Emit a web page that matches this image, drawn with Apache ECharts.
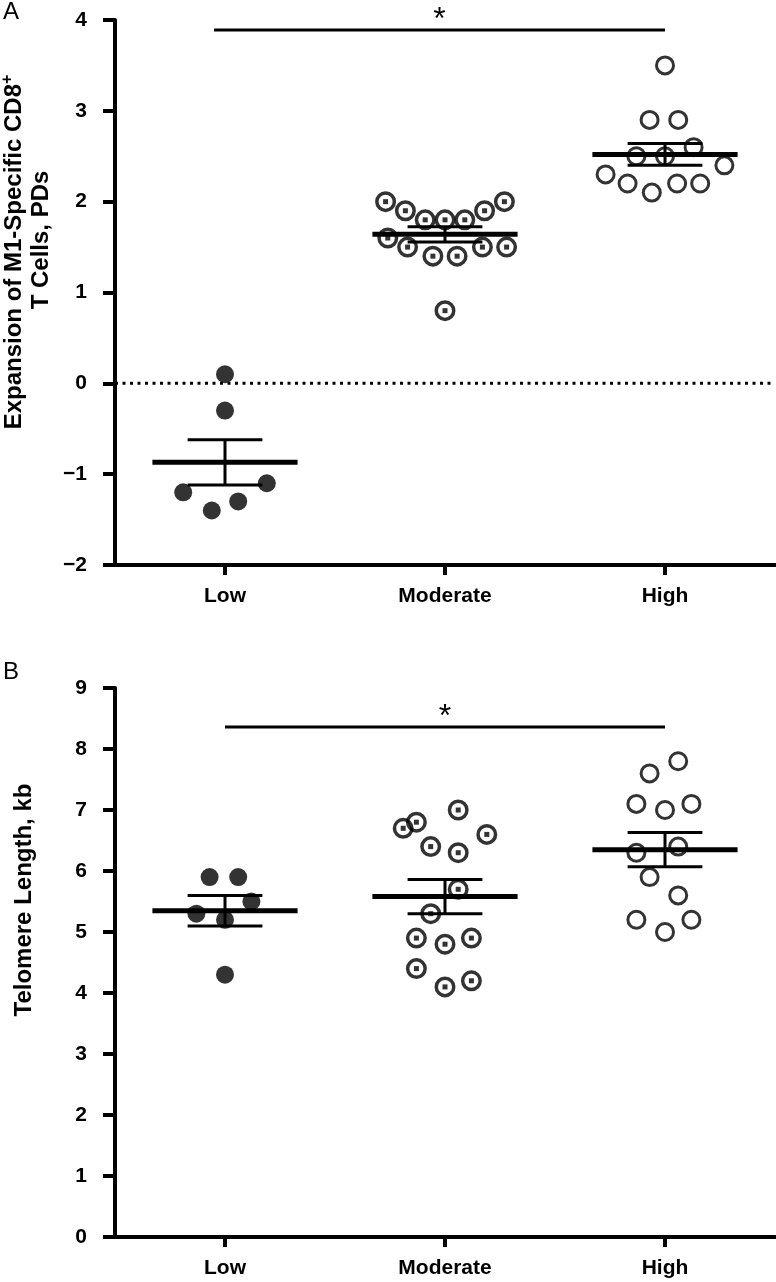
<!DOCTYPE html>
<html><head><meta charset="utf-8">
<script src="https://cdn.jsdelivr.net/npm/echarts@6/dist/echarts.min.js"></script>
<style>html,body{margin:0;padding:0;background:#fff}#c{width:776px;height:1282px}</style>
</head><body><div id="c"></div>
<script>
// ---------- data ----------
const categories = ['Low', 'Moderate', 'High'];

// Panel A: expansion (PDs)
const lowA = [0.1, -0.3, -1.2, -1.4, -1.3, -1.1];
const lowAJitter = [0, 0, -0.19, -0.06, 0.06, 0.19];
const modA = [2.0, 1.9, 1.8, 1.8, 1.8, 1.9, 2.0, 1.6, 1.5, 1.4, 1.4, 1.5, 1.5, 0.8];
const modAJitter = [-0.27, -0.18, -0.09, 0, 0.09, 0.18, 0.27, -0.26, -0.17, -0.055, 0.055, 0.17, 0.28, 0];
const highA = [3.5, 2.9, 2.9, 2.6, 2.5, 2.5, 2.4, 2.3, 2.2, 2.1, 2.2, 2.2];
const highAJitter = [0, -0.07, 0.06, 0.13, -0.13, 0, 0.27, -0.27, -0.17, -0.06, 0.055, 0.16];
const meanA = [-0.87, 1.64, 2.52];
const semA = [0.25, 0.085, 0.12];
const sigA = [0.45, 2.5, 3.89];   // from x, to x, y
const yTicksA = [-2, 4];

// Panel B: telomere length (kb)
const lowB = [5.9, 5.9, 5.5, 5.3, 5.2, 4.3];
const lowBJitter = [-0.07, 0.06, 0.12, -0.13, 0, 0];
const modB = [6.7, 6.8, 7.0, 6.4, 6.3, 6.6, 5.7, 5.3, 4.9, 4.8, 4.9, 4.4, 4.1, 4.2];
const modBJitter = [-0.19, -0.13, 0.06, -0.065, 0.06, 0.19, 0.06, -0.065, -0.13, 0, 0.12, -0.13, 0, 0.12];
const highB = [7.8, 7.6, 7.1, 7.0, 7.1, 6.3, 6.4, 5.9, 5.6, 5.2, 5.0, 5.2];
const highBJitter = [0.06, -0.07, -0.13, 0, 0.12, -0.13, 0.06, -0.07, 0.06, -0.13, 0, 0.12];
const meanB = [5.35, 5.58, 6.35];
const semB = [0.25, 0.28, 0.28];
const sigB = [0.5, 2.5, 8.36];
const yTicksB = [0, 9];

// ---------- chart ----------
const FONT = "'Liberation Sans', Arial, sans-serif";
const chart = echarts.init(document.getElementById('c'), null, {renderer: 'canvas'});

function pts(vals, jit, cat) { return vals.map((v, i) => [cat + 0.5 + jit[i], v]); }

function xAxisCfg(g) {
  return {
    type: 'value', gridIndex: g, min: 0, max: 3,
    axisLine: {show: true, onZero: false, lineStyle: {color: '#000', width: 4}},
    axisTick: {show: true, customValues: [0.5, 1.5, 2.5], length: 10, lineStyle: {color: '#000', width: 4}},
    axisLabel: {customValues: [0.5, 1.5, 2.5], formatter: v => categories[Math.floor(v)],
      fontSize: 21, fontWeight: 'bold', color: '#000', fontFamily: FONT, margin: 21},
    splitLine: {show: false}
  };
}
function yAxisCfg(g, range) {
  return {
    type: 'value', gridIndex: g, min: range[0], max: range[1], interval: 1,
    axisLine: {show: true, lineStyle: {color: '#000', width: 4}},
    axisTick: {show: true, length: 12, lineStyle: {color: '#000', width: 4}},
    axisLabel: {formatter: v => v < 0 ? '\u2212' + Math.abs(v) : String(v),
      fontSize: 21, fontWeight: 'bold', color: '#000', fontFamily: FONT, margin: 28},
    splitLine: {show: false}
  };
}

function meanSeries(g, means, sems) {
  return {
    type: 'custom', xAxisIndex: g, yAxisIndex: g, z: 2,
    data: means.map((m, i) => [i, m, sems[i]]),
    renderItem: function (params, api) {
      const x = api.value(0) + 0.5, m = api.value(1), s = api.value(2);
      const c = (a, b) => api.coord([a, b]);
      const ln = (p1, p2, w) => ({type: 'line', shape: {x1: p1[0], y1: p1[1], x2: p2[0], y2: p2[1]},
        style: {stroke: '#000', lineWidth: w}});
      return {type: 'group', children: [
        ln(c(x - 0.33, m), c(x + 0.33, m), 5),
        ln(c(x, m - s), c(x, m + s), 3),
        ln(c(x - 0.17, m + s), c(x + 0.17, m + s), 3),
        ln(c(x - 0.17, m - s), c(x + 0.17, m - s), 3)
      ]};
    }
  };
}
function sigSeries(g, sig) {
  return {
    type: 'custom', xAxisIndex: g, yAxisIndex: g, z: 2, clip: false,
    data: [sig],
    renderItem: function (params, api) {
      const p1 = api.coord([api.value(0), api.value(2)]);
      const p2 = api.coord([api.value(1), api.value(2)]);
      return {type: 'group', children: [
        {type: 'line', shape: {x1: p1[0], y1: p1[1], x2: p2[0], y2: p2[1]}, style: {stroke: '#000', lineWidth: 3}},
        {type: 'text', x: (p1[0] + p2[0]) / 2, y: p1[1] - 10,
          style: {text: '*', fontSize: 32, fontFamily: FONT, fill: '#000', align: 'center', verticalAlign: 'middle'}}
      ]};
    }
  };
}
function scatterSet(g, low, lowJ, mod, modJ, high, highJ) {
  return [
    {type: 'scatter', xAxisIndex: g, yAxisIndex: g, z: 5, symbol: 'circle', symbolSize: 18,
      itemStyle: {color: '#000'}, data: pts(low, lowJ, 0)},
    {type: 'scatter', xAxisIndex: g, yAxisIndex: g, z: 5, symbol: 'circle', symbolSize: 17.5,
      itemStyle: {color: 'rgba(255,255,255,0)', borderColor: '#000', borderWidth: 3.5}, data: pts(mod, modJ, 1)},
    {type: 'scatter', xAxisIndex: g, yAxisIndex: g, z: 6, symbol: 'rect', symbolSize: 5,
      itemStyle: {color: '#000'}, data: pts(mod, modJ, 1)},
    {type: 'scatter', xAxisIndex: g, yAxisIndex: g, z: 5, symbol: 'circle', symbolSize: 17,
      itemStyle: {color: 'rgba(255,255,255,0)', borderColor: '#000', borderWidth: 3}, data: pts(high, highJ, 2)}
  ];
}

const titleStyle = {fontSize: 24, fontWeight: 'bold', fontFamily: FONT, fill: '#000'};
const option = {
  animation: false,
  backgroundColor: '#fff',
  grid: [
    {left: 115, top: 20, width: 660, height: 545},
    {left: 115, top: 688, width: 660, height: 549}
  ],
  xAxis: [xAxisCfg(0), xAxisCfg(1)],
  yAxis: [yAxisCfg(0, yTicksA), yAxisCfg(1, yTicksB)],
  graphic: [
    {type: 'text', left: 3, top: 0, style: {text: 'A', fontSize: 24, fontFamily: FONT, fill: '#000'}},
    {type: 'text', left: 3, top: 660, style: {text: 'B', fontSize: 24, fontFamily: FONT, fill: '#000'}},
    {type: 'text', x: 14, y: 252, rotation: Math.PI / 2,
      style: {text: '{a|Expansion of M1-Specific CD8}{s|+}', align: 'center', verticalAlign: 'middle',
        rich: {a: Object.assign({lineHeight: 28}, titleStyle),
               s: {fontSize: 16, fontWeight: 'bold', fontFamily: FONT, fill: '#000', lineHeight: 28, verticalAlign: 'top'}}}},
    {type: 'text', x: 41, y: 240, rotation: Math.PI / 2,
      style: Object.assign({text: 'T Cells, PDs', align: 'center', verticalAlign: 'middle'}, titleStyle)},
    {type: 'text', x: 24, y: 900, rotation: Math.PI / 2,
      style: Object.assign({text: 'Telomere Length, kb', align: 'center', verticalAlign: 'middle'}, titleStyle)}
  ],
  series: [
    {type: 'line', xAxisIndex: 0, yAxisIndex: 0, z: 1, symbol: 'none', silent: true,
      data: [[0, 0], [3, 0]], lineStyle: {color: '#000', width: 3, type: [3, 4.5]}},
    sigSeries(0, sigA),
    meanSeries(0, meanA, semA),
    ...scatterSet(0, lowA, lowAJitter, modA, modAJitter, highA, highAJitter),
    sigSeries(1, sigB),
    meanSeries(1, meanB, semB),
    ...scatterSet(1, lowB, lowBJitter, modB, modBJitter, highB, highBJitter)
  ]
};
chart.setOption(option);
</script></body></html>
